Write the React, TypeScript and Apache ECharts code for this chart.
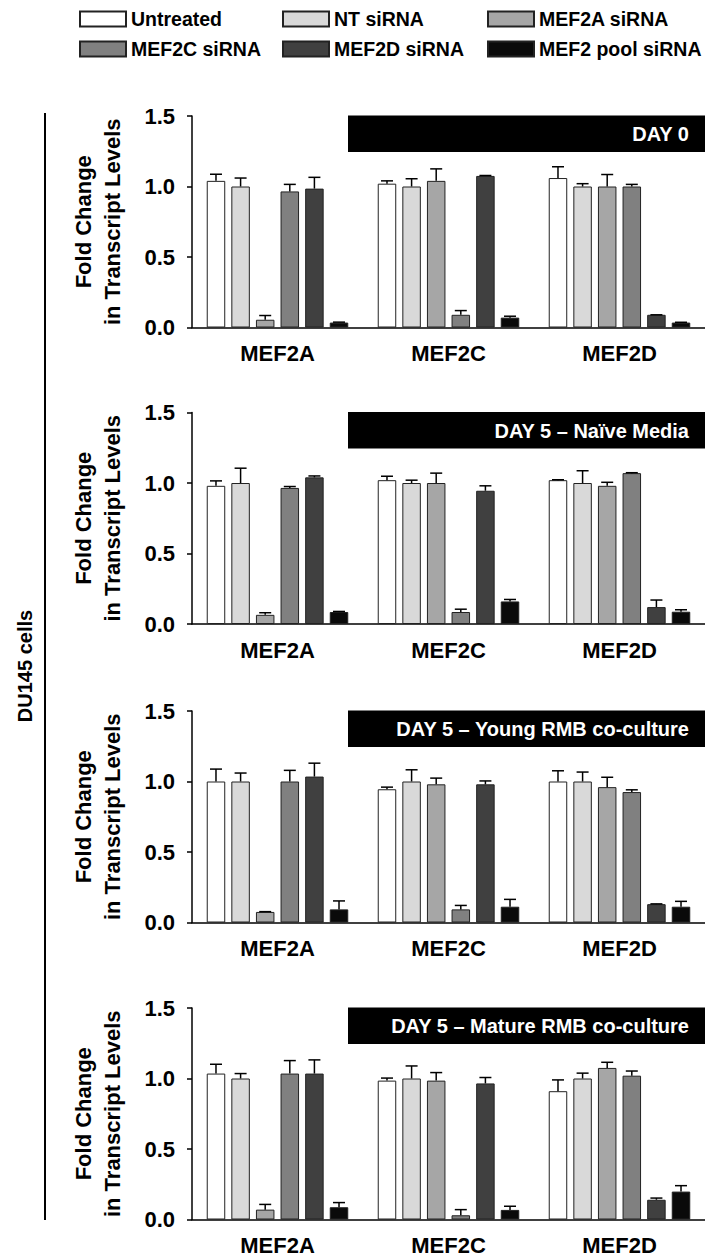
import React, { useEffect, useRef } from "react";
import * as echarts from "echarts";

const categories = ["MEF2A", "MEF2C", "MEF2D"];
const treatments = ["Untreated", "NT siRNA", "MEF2A siRNA", "MEF2C siRNA", "MEF2D siRNA", "MEF2 pool siRNA"];
const treatmentColors = ["#ffffff", "#d9d9d9", "#a6a6a6", "#808080", "#404040", "#0a0a0a"];
const panelTitles = ["DAY 0", "DAY 5 – Naïve Media", "DAY 5 – Young RMB co-culture", "DAY 5 – Mature RMB co-culture"];
const yMin = 0;
const yMax = 1.5;
const yInterval = 0.5;
const yTitle = "Fold Change\nin Transcript Levels";
const sideLabel = "DU145 cells";

// rows = treatments, columns = categories (MEF2A, MEF2C, MEF2D)
const day0Mean = [
  [1.04, 1.02, 1.06],
  [1.0, 1.0, 1.0],
  [0.055, 1.04, 1.0],
  [0.965, 0.09, 1.0],
  [0.985, 1.075, 0.09],
  [0.035, 0.07, 0.035],
];
const day0Err = [
  [0.047, 0.02, 0.08],
  [0.06, 0.055, 0.02],
  [0.03, 0.085, 0.085],
  [0.05, 0.03, 0.015],
  [0.08, 0.003, 0.0],
  [0.003, 0.01, 0.002],
];
const naiveMean = [
  [0.98, 1.02, 1.02],
  [1.0, 1.0, 1.0],
  [0.065, 1.0, 0.98],
  [0.965, 0.085, 1.07],
  [1.04, 0.945, 0.12],
  [0.085, 0.16, 0.087],
];
const naiveErr = [
  [0.035, 0.028, 0.003],
  [0.105, 0.02, 0.087],
  [0.015, 0.07, 0.025],
  [0.01, 0.02, 0.003],
  [0.01, 0.035, 0.05],
  [0.004, 0.014, 0.014],
];
const youngMean = [
  [1.0, 0.945, 1.0],
  [1.0, 1.0, 1.0],
  [0.075, 0.98, 0.96],
  [1.0, 0.093, 0.925],
  [1.035, 0.98, 0.13],
  [0.093, 0.112, 0.112],
];
const youngErr = [
  [0.088, 0.015, 0.076],
  [0.06, 0.083, 0.067],
  [0.002, 0.044, 0.07],
  [0.079, 0.028, 0.016],
  [0.095, 0.024, 0.002],
  [0.06, 0.052, 0.038],
];
const matureMean = [
  [1.035, 0.985, 0.91],
  [1.0, 1.0, 1.0],
  [0.07, 0.985, 1.075],
  [1.035, 0.03, 1.02],
  [1.035, 0.965, 0.14],
  [0.087, 0.068, 0.198],
];
const matureErr = [
  [0.066, 0.018, 0.08],
  [0.035, 0.089, 0.038],
  [0.037, 0.057, 0.04],
  [0.092, 0.04, 0.033],
  [0.097, 0.042, 0.012],
  [0.033, 0.026, 0.042],
];

const panelMeans = [day0Mean, naiveMean, youngMean, matureMean];
const panelErrs = [day0Err, naiveErr, youngErr, matureErr];

const FONT = "Liberation Sans, Arial, Helvetica, sans-serif";
const GRID_LEFT = 192;
const GRID_WIDTH = 516;
const GRID_TOPS = [116, 412.5, 711, 1008];
const GRID_HEIGHT = 211.5;
const BAR_W = 18.5;
const BAR_GAP = 0.33;
const LEGEND_COLS = [79, 282, 487];
const LEGEND_ROWS = [9, 39];

export default function App() {
  const ref = useRef<HTMLDivElement>(null);

  useEffect(() => {
    document.body.style.margin = "0";
    if (!ref.current) return;
    const chart = echarts.init(ref.current, undefined, { renderer: "svg" });

    const grids: any[] = [];
    const xAxes: any[] = [];
    const yAxes: any[] = [];
    const series: any[] = [];
    const graphics: any[] = [];

    GRID_TOPS.forEach((top, p) => {
      grids.push({ left: GRID_LEFT, top, width: GRID_WIDTH, height: GRID_HEIGHT });
      xAxes.push({
        gridIndex: p,
        type: "category",
        data: categories,
        axisLine: { lineStyle: { color: "#000", width: 1.5 } },
        axisTick: { length: 7, lineStyle: { color: "#000", width: 1.5 } },
        axisLabel: { fontSize: 22, fontWeight: "bold", color: "#000", margin: 15, fontFamily: FONT },
      });
      yAxes.push({
        gridIndex: p,
        type: "value",
        min: yMin,
        max: yMax,
        interval: yInterval,
        splitLine: { show: false },
        axisLine: { show: true, lineStyle: { color: "#000", width: 1.5 } },
        axisTick: { show: true, length: 5, lineStyle: { color: "#000", width: 1.5 } },
        axisLabel: {
          fontSize: 22,
          fontWeight: "bold",
          color: "#000",
          margin: 17,
          fontFamily: FONT,
          formatter: (v: number) => v.toFixed(1),
        },
      });
      const means = panelMeans[p];
      const errs = panelErrs[p];
      treatments.forEach((name, t) => {
        series.push({
          type: "bar",
          name,
          xAxisIndex: p,
          yAxisIndex: p,
          data: means[t],
          barWidth: BAR_W,
          barGap: BAR_GAP * 100 + "%",
          itemStyle: { color: treatmentColors[t], borderColor: "#222", borderWidth: 1 },
        });
      });
      const errData: number[][] = [];
      treatments.forEach((_, t) => {
        categories.forEach((_c, c) => {
          errData.push([c, t, means[t][c], errs[t][c]]);
        });
      });
      series.push({
        type: "custom",
        name: "error",
        xAxisIndex: p,
        yAxisIndex: p,
        z: 5,
        encode: { x: 0, y: 2 },
        data: errData,
        renderItem: (_params: any, api: any) => {
          const c = api.value(0);
          const t = api.value(1);
          const m = api.value(2);
          const e = api.value(3);
          const base = api.coord([c, m]);
          const tip = api.coord([c, m + e]);
          const gapW = BAR_W * BAR_GAP;
          const total = treatments.length * BAR_W + (treatments.length - 1) * gapW;
          const x = base[0] - total / 2 + t * (BAR_W + gapW) + BAR_W / 2;
          const cap = 6;
          const st = { stroke: "#000", lineWidth: 1.5 };
          return {
            type: "group",
            children: [
              { type: "line", shape: { x1: x, y1: base[1], x2: x, y2: tip[1] }, style: st },
              { type: "line", shape: { x1: x - cap, y1: tip[1], x2: x + cap, y2: tip[1] }, style: st },
            ],
          };
        },
      });

      graphics.push({
        type: "rect",
        shape: { x: 348, y: top - 0.5, width: 362, height: 36.5 },
        style: { fill: "#000" },
      });
      graphics.push({
        type: "text",
        x: 689,
        y: top + 18,
        style: {
          text: panelTitles[p],
          fill: "#fff",
          font: "bold 20px " + FONT,
          align: "right",
          verticalAlign: "middle",
        },
      });
      graphics.push({
        type: "text",
        x: 97.5,
        y: top + GRID_HEIGHT / 2,
        rotation: Math.PI / 2,
        style: {
          text: yTitle,
          fill: "#000",
          font: "bold 22px " + FONT,
          lineHeight: 29,
          align: "center",
          verticalAlign: "middle",
        },
      });
    });

    graphics.push({
      type: "line",
      shape: { x1: 45, y1: 113, x2: 45, y2: 1220 },
      style: { stroke: "#000", lineWidth: 2 },
    });
    graphics.push({
      type: "text",
      x: 25,
      y: 666,
      rotation: Math.PI / 2,
      style: {
        text: sideLabel,
        fill: "#000",
        font: "bold 20px " + FONT,
        align: "center",
        verticalAlign: "middle",
      },
    });

    const legends = treatments.map((name, i) => ({
      left: LEGEND_COLS[i % 3],
      top: LEGEND_ROWS[Math.floor(i / 3)],
      padding: 0,
      itemWidth: 46,
      itemHeight: 15,
      icon: "rect",
      selectedMode: false,
      data: [name],
      textStyle: { fontSize: 19.5, fontWeight: "bold", color: "#000", fontFamily: FONT },
    }));

    chart.setOption({
      animation: false,
      backgroundColor: "#fff",
      textStyle: { fontFamily: FONT },
      legend: legends,
      grid: grids,
      xAxis: xAxes,
      yAxis: yAxes,
      series,
      graphic: graphics,
    });

    return () => chart.dispose();
  }, []);

  return <div ref={ref} style={{ width: 705, height: 1259 }} />;
}
